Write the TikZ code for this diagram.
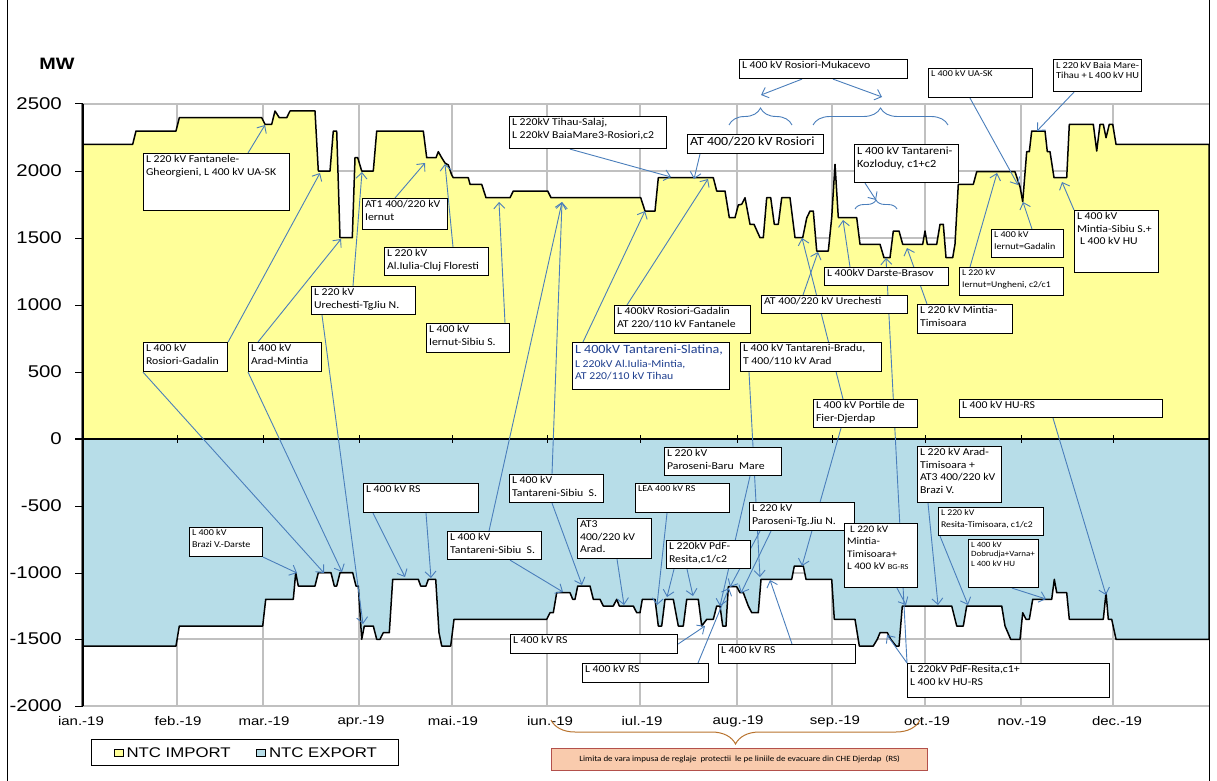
\documentclass[tikz,border=0pt]{standalone}
\usepackage{fontspec}
\setmainfont{Carlito}
\newfontfamily\lblfont{Carlito}[FakeStretch=1.12]
\newfontfamily\axfont{Liberation Sans}[FakeStretch=1.2]
\usetikzlibrary{arrows.meta,decorations.pathreplacing,positioning}
\definecolor{ntcimp}{HTML}{FFFF99}
\definecolor{ntcexp}{HTML}{B7DDE8}
\definecolor{callout}{HTML}{4A7EBB}
\definecolor{gridgray}{HTML}{C0C0C0}
\definecolor{slatina}{HTML}{1F3F8F}
\definecolor{varafill}{HTML}{F9CBAD}
\definecolor{varadraw}{HTML}{B3504B}
\definecolor{varabrace}{HTML}{B8732E}
\pgfdeclarelayer{chart}
\pgfdeclarelayer{callouts}
\pgfsetlayers{chart,callouts,main}

% box from (x0,y0) to (x1,y1), text kept at the top
\newcommand{\ntcbox}[7][]{%
  \pgfmathsetmacro{\ntcw}{#5-#3-5}%
  \pgfmathsetmacro{\ntch}{#6-#4-4}%
  \node[lbl,#1] (#2) at (#3,#4) {\parbox[t][\ntch pt][t]{\ntcw pt}{\raggedright #7}};}

\begin{document}
\begin{tikzpicture}[x=1pt,y=-1pt,
   lbl/.style={draw,fill=white,line width=1.1pt,anchor=north west,inner xsep=2.5pt,inner ysep=2pt,
     font=\lblfont\fontsize{10.5}{12.5}\selectfont},
   lblmid/.style={font=\lblfont\fontsize{9}{11.5}\selectfont},
   lblsmall/.style={font=\lblfont\fontsize{8}{9.8}\selectfont},
   pt/.style={draw=callout,line width=0.9pt,-{Straight Barb[length=6pt,width=11pt]}},
   cbrace/.style={draw=callout,line width=0.9pt,decorate,decoration={brace,amplitude=#1}},
   gridln/.style={draw=gridgray,line width=1.2pt},
   prof/.style={draw=black,line width=1.5pt,line join=round},
   ylab/.style={anchor=east,inner sep=0pt,font=\axfont\fontsize{17}{19}\selectfont},
   mlab/.style={inner sep=0pt,font=\axfont\fontsize{12.5}{14}\selectfont},
   legkey/.style={draw,line width=0.6pt,minimum width=9pt,minimum height=7pt,inner sep=0pt},
   legtxt/.style={inner sep=0pt,font=\axfont\fontsize{14}{16}\selectfont}]
\useasboundingbox (0,0) rectangle (1217,781);

\begin{pgfonlayer}{chart}
% grid
\foreach \yy in {104,171,238,305,372,506,573,639,706}
  \draw[gridln] (83,\yy) -- (1209,\yy);
\foreach \xx in {177,263,359,452,547,640,737,832,925,1021,1113}
  \draw[gridln] (\xx,104) -- (\xx,706);
% NTC import
\filldraw[prof,fill=ntcimp] (83,439) -- (83,144.3) -- (132.7,144.3) -- (136,131) -- (176,131) -- (179.3,117.7)
  -- (261.7,117.7) -- (265,124.3) -- (271.7,124.3) -- (275,111) -- (279.3,117.7) -- (286.7,117.7) -- (290,111)
  -- (315,111) -- (318.3,171) -- (330,171) -- (333.3,131) -- (336.7,131) -- (340,237.7) -- (352.3,237.7)
  -- (355,157.7) -- (357.7,157.7) -- (361.7,171) -- (373.3,171) -- (376.7,131) -- (423.3,131) -- (426.7,157.7)
  -- (436,157.7) -- (438.3,151.7) -- (441.7,157.7) -- (445,163) -- (448.3,165) -- (451.7,175) -- (453.3,177.7)
  -- (468.3,177.7) -- (470,184.3) -- (481.7,184.3) -- (486,197.7) -- (510,197.7) -- (513.3,191) -- (547.7,191)
  -- (551,197.7) -- (640.7,197.7) -- (645,211) -- (655,211) -- (658.3,177.7) -- (713.3,177.7) -- (716.7,191)
  -- (725,191) -- (729.3,217.7) -- (735,217.7) -- (738.3,205) -- (741.7,204.3) -- (745,197.7) -- (750,224.3)
  -- (754,224.3) -- (760,237.7) -- (763.3,237.7) -- (766.7,197.7) -- (770.7,197.7) -- (774.3,224.3)
  -- (778.3,224.3) -- (781.7,197.7) -- (790,197.7) -- (795,237.7) -- (802.7,237.7) -- (806.7,218) -- (810,211)
  -- (813.3,211) -- (816.7,251) -- (828.3,251) -- (831.7,217.7) -- (835,164.3) -- (838.3,217.7)
  -- (856.7,217.7) -- (860,244.3) -- (880,244.3) -- (884,257.7) -- (890,257.7) -- (893.3,231) -- (899,231)
  -- (902.7,244.3) -- (922.7,244.3) -- (925,231) -- (927.3,244.3) -- (936.7,244.3) -- (940,224.3)
  -- (943.3,224.3) -- (946,257.7) -- (952.7,257.7) -- (955,244) -- (958.3,184.3) -- (973.3,184.3)
  -- (976.7,171.7) -- (1015,171.7) -- (1020,186.7) -- (1022.7,201.7) -- (1026.7,151.7) -- (1029.3,151.7)
  -- (1031.7,131) -- (1045,131) -- (1047.3,151.7) -- (1050,151.7) -- (1054,177.7) -- (1066.7,177.7)
  -- (1069.3,124.3) -- (1093.3,124.3) -- (1096.7,151) -- (1100,124.3) -- (1103.3,124.3) -- (1106,137.7)
  -- (1109.3,124.3) -- (1112.7,124.3) -- (1116,144.3) -- (1209,144.3) -- (1209,439) -- cycle;
% NTC export
\filldraw[prof,fill=ntcexp] (83,439) -- (83,646) -- (176,646) -- (179.3,626) -- (262.7,626) -- (265.7,599.3)
  -- (293.3,599.3) -- (295.7,572.7) -- (298.3,586) -- (315,586) -- (318.3,572.7) -- (331,572.7) -- (334.3,586)
  -- (336.7,586) -- (340,572.7) -- (352.7,572.7) -- (356,586) -- (358.3,586) -- (361.7,639.3) -- (364.3,626)
  -- (373.3,626) -- (376.7,639.3) -- (380,639.3) -- (383.3,632.7) -- (389.3,632.7) -- (392.7,579.3)
  -- (418.3,579.3) -- (420.7,586) -- (426,586) -- (428.3,579.3) -- (435.7,579.3) -- (439,632.7) -- (441.7,646)
  -- (450.7,646) -- (454,619.3) -- (546.7,619.3) -- (550,612.7) -- (553.3,612.7) -- (556.7,592.7)
  -- (570,592.7) -- (572.7,599.3) -- (575,599.3) -- (577.7,586) -- (590,586) -- (593.3,599.3) -- (600,599.3)
  -- (603.3,606) -- (613.3,606) -- (616.7,599.3) -- (619.3,606) -- (633.3,606) -- (636.7,612.7)
  -- (640,612.7) -- (642.3,599.3) -- (655,599.3) -- (658.3,626) -- (661.7,626) -- (665,599.3)
  -- (673.3,599.3) -- (678.3,626) -- (683.3,626) -- (686.7,599.3) -- (698.3,599.3) -- (701.7,626)
  -- (706.7,619.3) -- (713.3,619.3) -- (716.7,606) -- (720,606) -- (722.7,626) -- (726,626) -- (728.3,586.7)
  -- (736.7,586.7) -- (740,592.7) -- (743.3,592.7) -- (748.3,606) -- (751.7,612.7) -- (758.3,612.7)
  -- (761,579.3) -- (791.7,579.3) -- (794.3,566) -- (803.3,566) -- (806,579.3) -- (831.7,579.3)
  -- (834.3,619.3) -- (855,619.3) -- (859.3,646) -- (873.3,646) -- (877.3,639.3) -- (880,632.7)
  -- (887.3,632.7) -- (890.7,639.3) -- (896,646) -- (899,646) -- (902.3,606) -- (951.7,606) -- (956.7,626)
  -- (963.3,626) -- (966.7,606) -- (1001.7,606) -- (1005,626) -- (1010.7,639.3) -- (1020,639.3)
  -- (1022.7,612.7) -- (1026,619.3) -- (1029.3,619.3) -- (1032.7,599.3) -- (1051.7,599.3) -- (1054.3,579.3)
  -- (1056.7,592.7) -- (1066.7,592.7) -- (1069.3,619.3) -- (1103.3,619.3) -- (1106,592.7) -- (1108.3,619.3)
  -- (1111.7,619.3) -- (1116,639.3) -- (1209,639.3) -- (1209,439) -- cycle;
% axes
\draw[gray,line width=1.5pt] (81.3,104) -- (81.3,706);
\draw[line width=1.2pt] (83,104) -- (83,706);
\foreach \yy in {104,171,238,305,372,439,506,573,639,706}
  \draw[line width=1pt] (75,\yy) -- (83,\yy);
\draw[line width=1.6pt] (75,439) -- (1209,439);
\foreach \xx in {177,263,359,452,547,640,737,832,925,1021,1113}
  \draw[line width=1pt] (\xx,435) -- (\xx,443);
% frame
\draw[line width=1.2pt] (7.3,0) -- (7.3,781) (1209.5,0) -- (1209.5,781);
\end{pgfonlayer}

% axis texts
\node[font=\axfont\bfseries\fontsize{16.5}{18}\selectfont] (mw) at (57,64) {MW};
\foreach \v/\yy in {2500/104,2000/171,1500/238,1000/305,500/372,0/439,-500/506,-1000/573,-1500/639,-2000/706}
  \node[ylab] (y\v) at (62,\yy) {\v};
\foreach \m/\xx [count=\i] in {ian./81,feb./178,mar./264,apr./361,mai./453,iun./550,iul./642,aug./738,sep./835,oct./927,nov./1022,dec./1117}
  \node[mlab] (m\i) at (\xx,721) {\m-19};

% legend
\node[draw,line width=1.2pt,anchor=north west,minimum width=307,minimum height=26,inner sep=0pt] (legend) at (91,739) {};
\node[legkey,fill=ntcimp] (kimp) at (118.5,752.5) {};
\node[legtxt,right=3pt of kimp] (timp) {NTC IMPORT};
\node[legkey,fill=ntcexp] (kexp) at (261,752.5) {};
\node[legtxt,right=3pt of kexp] (texp) {NTC EXPORT};

% summer limit
\draw[varabrace,line width=1pt,decorate,decoration={brace,amplitude=24}] (920,720) -- (551,720);
\node[draw=varadraw,fill=varafill,line width=1.2pt,anchor=north west,minimum width=376,minimum height=22,inner sep=0pt,
  font=\lblfont\fontsize{8}{9}\selectfont] (vara) at (551,748)
  {Limita de vara impusa de reglaje\ \ protectii\ \ le pe liniile de evacuare din CHE Djerdap\ \ (RS)};

% import boxes
\ntcbox{b1}{143}{153}{289}{210}{L 220 kV Fantanele-\\Gheorgieni, L 400 kV UA-SK}
\ntcbox{b2}{362}{198}{447}{229}{AT1 400/220 kV\\Iernut}
\ntcbox{b3}{384}{247}{488}{275}{L 220 kV\\Al.Iulia-Cluj Floresti}
\ntcbox{b4}{311}{286}{415}{314}{L 220 kV\\Urechesti-TgJiu N.}
\ntcbox{b5}{143}{342}{227}{371}{L 400 kV\\Rosiori-Gadalin}
\ntcbox{b6}{248}{342}{321}{371}{L 400 kV\\Arad-Mintia}
\ntcbox{b7}{426}{323}{509}{352}{L 400 kV\\Iernut-Sibiu S.}
\ntcbox{b8}{509}{116}{666}{148}{L 220kV Tihau-Salaj,\\L 220kV BaiaMare3-Rosiori,c2}
\ntcbox[font=\lblfont\fontsize{12.5}{14}\selectfont]{b9}{687}{134}{823}{153}{AT 400/220 kV Rosiori}
\ntcbox{b10}{739}{59}{907}{78}{L 400 kV Rosiori-Mukacevo}
\ntcbox[font=\lblfont\fontsize{11}{13.5}\selectfont]{b11}{854}{144}{958}{182}{L 400 kV Tantareni-\\Kozloduy, c1+c2}
\ntcbox[lblmid]{b12}{928}{68}{1032}{97}{L 400 kV UA-SK}
\ntcbox[font=\lblfont\fontsize{9.3}{10.5}\selectfont]{b13}{1053}{59}{1141}{91}{L 220\ kV Baia Mare-\\Tihau + L 400 kV HU}
\ntcbox{b14}{1074}{210}{1158}{272}{L 400 kV\\Mintia-Sibiu S.+\\\hspace*{3pt}L 400 kV\ HU}
\ntcbox[lblmid]{b15}{991}{229}{1063}{257}{L 400 kV\\Iernut=Gadalin}
\ntcbox[font=\lblfont\fontsize{8.7}{11.5}\selectfont]{b16}{959}{267}{1063}{295}{L 220 kV\\Iernut=Ungheni, c2/c1}
\ntcbox{b17}{824}{267}{948}{285}{L 400kV Darste-Brasov}
\ntcbox{b18}{761}{295}{907}{313}{AT 400/220 kV Urechesti}
\ntcbox{b19}{917}{304}{1012}{333}{L 220 kV Mintia-\\Timisoara}
\ntcbox{b20}{614}{305}{750}{333}{L 400kV Rosiori-Gadalin\\AT 220/110 kV Fantanele}
\ntcbox[text=slatina]{b21}{572}{342}{729}{389}{{\fontsize{12.6}{15}\selectfont L 400kV Tantareni-Slatina,}\\[1.5pt]L 220kV Al.Iulia-Mintia,\\AT 220/110 kV Tihau}
\ntcbox{b22}{740}{342}{881}{371}{L 400 kV Tantareni-Bradu,\\T 400/110 kV Arad}
\ntcbox{b23}{813}{399}{917}{427}{L 400 kV Portile de\\Fier-Djerdap}
\ntcbox{b24}{959}{399}{1162}{417}{L 400 kV HU-RS}

% export boxes
\ntcbox{c1}{363}{483}{478}{512}{L 400 kV RS}
\ntcbox[lblmid]{c2}{189}{527}{262}{556}{L 400 kV\\Brazi V.-Darste}
\ntcbox{c3}{447}{531}{541}{559}{L 400 kV\\Tantareni-Sibiu\ \ S.}
\ntcbox{c4}{509}{474}{603}{502}{L 400 kV\\Tantareni-Sibiu\ \ S.}
\ntcbox[font=\lblfont\fontsize{10.5}{12.8}\selectfont]{c5}{577}{518}{651}{558}{AT3\\400/220 kV\\Arad.}
\ntcbox[lblmid]{c6}{635}{483}{729}{512}{LEA 400 kV RS}
\ntcbox{c7}{666}{540}{750}{568}{L 220kV PdF-\\Resita,c1/c2}
\ntcbox{c8}{664}{447}{781}{475}{L 220 kV\\Paroseni-Baru\ \ Mare}
\ntcbox{c9}{749}{502}{854}{530}{L 220 kV\\Paroseni-Tg.Jiu N.}
\ntcbox[font=\lblfont\fontsize{10}{12.3}\selectfont]{c10}{844}{523}{917}{587}{\hspace*{3pt}L 220 kV\\Mintia-\\Timisoara+\\L 400 kV {\fontsize{7.5}{9}\selectfont BG-RS}}
\ntcbox{c11}{917}{446}{1001}{502}{L 220 kV Arad-\\Timisoara +\\AT3 400/220 kV\\Brazi V.}
\ntcbox[font=\lblfont\fontsize{8.7}{11.5}\selectfont]{c12}{938}{507}{1043}{535}{L 220 kV\\Resita-Timisoara, c1/c2}
\ntcbox[lblsmall]{c13}{968}{539}{1038}{587}{L 400 kV\\Dobrudja+Varna+\\L 400 kV HU}
\ntcbox{c14}{510}{634}{677}{653}{L 400 kV RS}
\ntcbox{c15}{582}{663}{708}{682}{L 400 kV RS}
\ntcbox{c16}{718}{644}{855}{663}{L 400 kV RS}
\ntcbox{c17}{907}{663}{1109}{697}{L 220kV PdF-Resita,c1+\\L 400 kV HU-RS}

\begin{pgfonlayer}{callouts}
% braces over the summer dips
\draw[cbrace=17] (729,125) -- (792,125);
\draw[cbrace=17] (813,125) -- (948,125);
\draw[cbrace=9] (855,209) -- (897,209);
% points on the curves
\coordinate (b1t) at (265,125);
\coordinate (b2t) at (425,163);
\coordinate (b3t) at (445,164);
\coordinate (b4t) at (362,172);
\coordinate (b4e) at (363,624);
\coordinate (b5t) at (320,173);
\coordinate (b5e) at (324,573);
\coordinate (b6t) at (341,239);
\coordinate (b6e) at (342,572);
\coordinate (b7t) at (499,202);
\coordinate (b8t) at (671,177);
\coordinate (b9t) at (694,179);
\coordinate (mk1) at (761,95);
\coordinate (mk2) at (882,97);
\coordinate (kz) at (876,200);
\coordinate (b12t) at (1018,185);
\coordinate (b13t) at (1037,131);
\coordinate (b14t) at (1062,182);
\coordinate (b15t) at (1023,202);
\coordinate (b16t) at (997,173);
\coordinate (b17t) at (843,220);
\coordinate (b18t) at (818,252);
\coordinate (b19t) at (907,248);
\coordinate (b20t) at (708,179);
\coordinate (b21t) at (645,211);
\coordinate (b22e) at (760,577);
\coordinate (b23t) at (802,238);
\coordinate (b23e) at (802,566);
\coordinate (b24e) at (1106,595);
\coordinate (c1e) at (405,577);
\coordinate (c1f) at (431,578);
\coordinate (c2e) at (297,573);
\coordinate (sib) at (562,202);
\coordinate (c3e) at (563,592);
\coordinate (c4e) at (582,585);
\coordinate (c5e) at (624,605);
\coordinate (c6e) at (657,605);
\coordinate (c7e) at (667,597);
\coordinate (c7f) at (693,596);
\coordinate (c8e) at (720,606);
\coordinate (c9e) at (730,587);
\coordinate (c9f) at (741,593);
\coordinate (c10e) at (906,605);
\coordinate (c11e) at (938,605);
\coordinate (c12e) at (968,605);
\coordinate (c13e) at (1046,599);
\coordinate (c14e) at (705,626);
\coordinate (c15e) at (729,588);
\coordinate (c16e) at (770,580);
\coordinate (c17t) at (886,258);
\coordinate (c17e) at (887,635);
% callout arrows
\draw[pt] ([xshift=105pt]b1.north west) -- (b1t);
\draw[pt] ([xshift=33pt]b2.north west) -- (b2t);
\draw[pt] ([xshift=69pt]b3.north west) -- (b3t);
\draw[pt] ([xshift=42pt]b4.north west) -- (b4t);
\draw[pt] ([xshift=11pt]b4.south west) -- (b4e);
\draw[pt] (b5.north east) -- (b5t);
\draw[pt] (b5.south west) -- (b5e);
\draw[pt] ([xshift=10pt]b6.north west) -- (b6t);
\draw[pt] (b6.south west) -- (b6e);
\draw[pt] ([xshift=79pt]b7.north west) -- (b7t);
\draw[pt] ([xshift=61pt]b8.south west) -- (b8t);
\draw[pt] ([xshift=13pt]b9.south west) -- (b9t);
\draw[pt] ([xshift=63pt]b10.south west) -- (mk1);
\draw[pt] ([xshift=94pt]b10.south west) -- (mk2);
\draw[pt] ([xshift=11pt]b11.south west) -- (kz);
\draw[pt] ([xshift=42pt]b12.south west) -- (b12t);
\draw[pt] ([xshift=21pt]b13.south west) -- (b13t);
\draw[pt] (b14.north west) -- (b14t);
\draw[pt] ([xshift=41pt]b15.north west) -- (b15t);
\draw[pt] ([xshift=11pt]b16.north west) -- (b16t);
\draw[pt] ([xshift=26pt]b17.north west) -- (b17t);
\draw[pt] ([xshift=42pt]b18.north west) -- (b18t);
\draw[pt] ([xshift=10pt]b19.north west) -- (b19t);
\draw[pt] ([xshift=13pt]b20.north west) -- (b20t);
\draw[pt] ([xshift=11pt]b21.north west) -- (b21t);
\draw[pt] ([xshift=9pt]b22.south west) -- (b22e);
\draw[pt] ([xshift=30pt]b23.north west) -- (b23t);
\draw[pt] ([xshift=28pt]b23.south west) -- (b23e);
\draw[pt] ([xshift=94pt]b24.south west) -- (b24e);
\draw[pt] ([xshift=10pt]c1.south west) -- (c1e);
\draw[pt] ([xshift=63pt]c1.south west) -- (c1f);
\draw[pt] (c2.south east) -- (c2e);
\draw[pt] ([xshift=42pt]c3.north west) -- (sib);
\draw[pt] ([xshift=63pt]c3.south west) -- (c3e);
\draw[pt] ([xshift=43pt]c4.north west) -- (sib);
\draw[pt] ([xshift=43pt]c4.south west) -- (c4e);
\draw[pt] ([xshift=40pt]c5.south west) -- (c5e);
\draw[pt] ([xshift=32pt]c6.south west) -- (c6e);
\draw[pt] ([xshift=8pt]c7.south west) -- (c7e);
\draw[pt] ([xshift=21pt]c7.south west) -- (c7f);
\draw[pt] ([xshift=86pt]c8.south west) -- (c8e);
\draw[pt] ([xshift=11pt]c9.south west) -- (c9e);
\draw[pt] ([xshift=22pt]c9.south west) -- (c9f);
\draw[pt] ([xshift=53pt]c10.south west) -- (c10e);
\draw[pt] ([xshift=11pt]c11.south west) -- (c11e);
\draw[pt] ([xshift=2pt]c12.south west) -- (c12e);
\draw[pt] ([xshift=44pt]c13.south west) -- (c13e);
\draw[pt] (c14.east) -- (c14e);
\draw[pt] ([xshift=116pt]c15.north west) -- (c15e);
\draw[pt] ([xshift=74pt]c16.north west) -- (c16e);
\draw[pt] (c17.north west) -- (c17t);
\draw[pt] (c17.north west) -- (c17e);
\end{pgfonlayer}
\end{tikzpicture}
\end{document}
